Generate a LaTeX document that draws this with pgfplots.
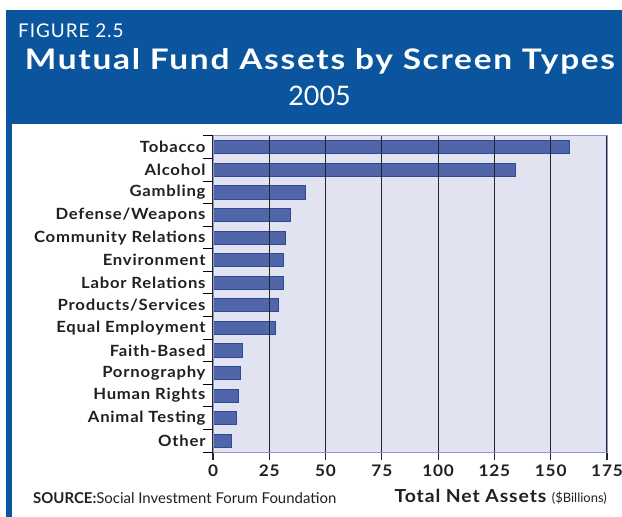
\documentclass[border=0pt]{standalone}
\usepackage{fontspec}
\setmainfont{Lato}
\newfontfamily\lblfont[FakeStretch=1.08, LetterSpace=5]{Lato}
\newfontfamily\ttlfont[FakeStretch=1.18, LetterSpace=6]{Lato}
\newfontfamily\figfont[LetterSpace=5]{Lato}
\usepackage{pgfplots}
\pgfplotsset{compat=1.18}
\definecolor{hdrblue}{HTML}{0B559E}
\definecolor{barfill}{HTML}{5066A8}
\definecolor{baredge}{HTML}{2E4A96}
\definecolor{plotbg}{HTML}{E1E3F0}
\definecolor{frameln}{HTML}{8F97CC}
\definecolor{txt}{HTML}{231F20}
\begin{document}
\begin{tikzpicture}[x=1bp,y=1bp]
\useasboundingbox (0,0) rectangle (622,517);
\fill[white] (0,0) rectangle (622,517);
\fill[hdrblue] (6,393) rectangle (622,506.5);
\fill[hdrblue] (6,0) rectangle (12,393);
\node[anchor=base west, white, inner sep=0, font=\figfont\fontsize{19}{19}\selectfont] at (18,479) {FIGURE 2.5};
\node[anchor=base, white, inner sep=0, font=\ttlfont\fontsize{28}{28}\selectfont\bfseries] at (320,447) {\resizebox{590bp}{!}{Mutual Fund Assets by Screen Types}};
\node[anchor=base, white, inner sep=0, font=\fontsize{27}{27}\selectfont] at (319.5,411) {2005};
\begin{axis}[
  at={(213bp,65bp)}, anchor=south west,
  scale only axis, width=394bp, height=316bp,
  xmin=0, xmax=175, ymin=-0.5, ymax=13.5, y dir=reverse,
  xtick={0,25,...,175},
  ytick={0,...,13},
  yticklabels={Tobacco,Alcohol,Gambling,Defense/Weapons,Community Relations,Environment,Labor Relations,Products/Services,Equal Employment,Faith-Based,Pornography,Human Rights,Animal Testing,Other},
  minor ytick={-0.5,0.5,...,13.5},
  xtick pos=bottom, ytick pos=left,
  xmajorgrids,
  major grid style={black!85, line width=1.2bp},
  axis background/.style={fill=plotbg},
  axis line style={frameln, line width=1bp},
  axis on top,
  tick align=outside,
  major tick length=8bp, minor tick length=10bp,
  major x tick style={black!85, line width=1.2bp},
  major y tick style={draw=none},
  minor y tick style={black, line width=1bp},
  /pgf/number format/assume math mode=true,
  tick label style={font=\lblfont\fontsize{15.5}{15.5}\selectfont\bfseries, text=txt},
  yticklabel style={xshift=4bp},
  xticklabel style={yshift=-1bp, font=\lblfont\fontsize{16}{16}\selectfont\bfseries},
]
\addplot[xbar, fill=barfill, draw=baredge, line width=0.8bp, bar width=0.58] coordinates {
(158.5,0) (134.5,1) (41.2,2) (34.2,3) (32,4) (31.2,5) (31.2,6) (29.2,7) (27.8,8) (13,9) (12.3,10) (11.5,11) (10.2,12) (8,13)};
\end{axis}
\node[anchor=base west, inner sep=0, text=txt] at (33,13) {{\fontsize{15}{15}\selectfont\bfseries SOURCE:}{\fontsize{15}{15}\selectfont Social Investment Forum Foundation}};
\node[anchor=base east, inner sep=0, text=txt] at (607,14) {{\lblfont\fontsize{18}{18}\selectfont\bfseries Total Net Assets }{\fontsize{13}{13}\selectfont (\$Billions)}};
\end{tikzpicture}
\end{document}
